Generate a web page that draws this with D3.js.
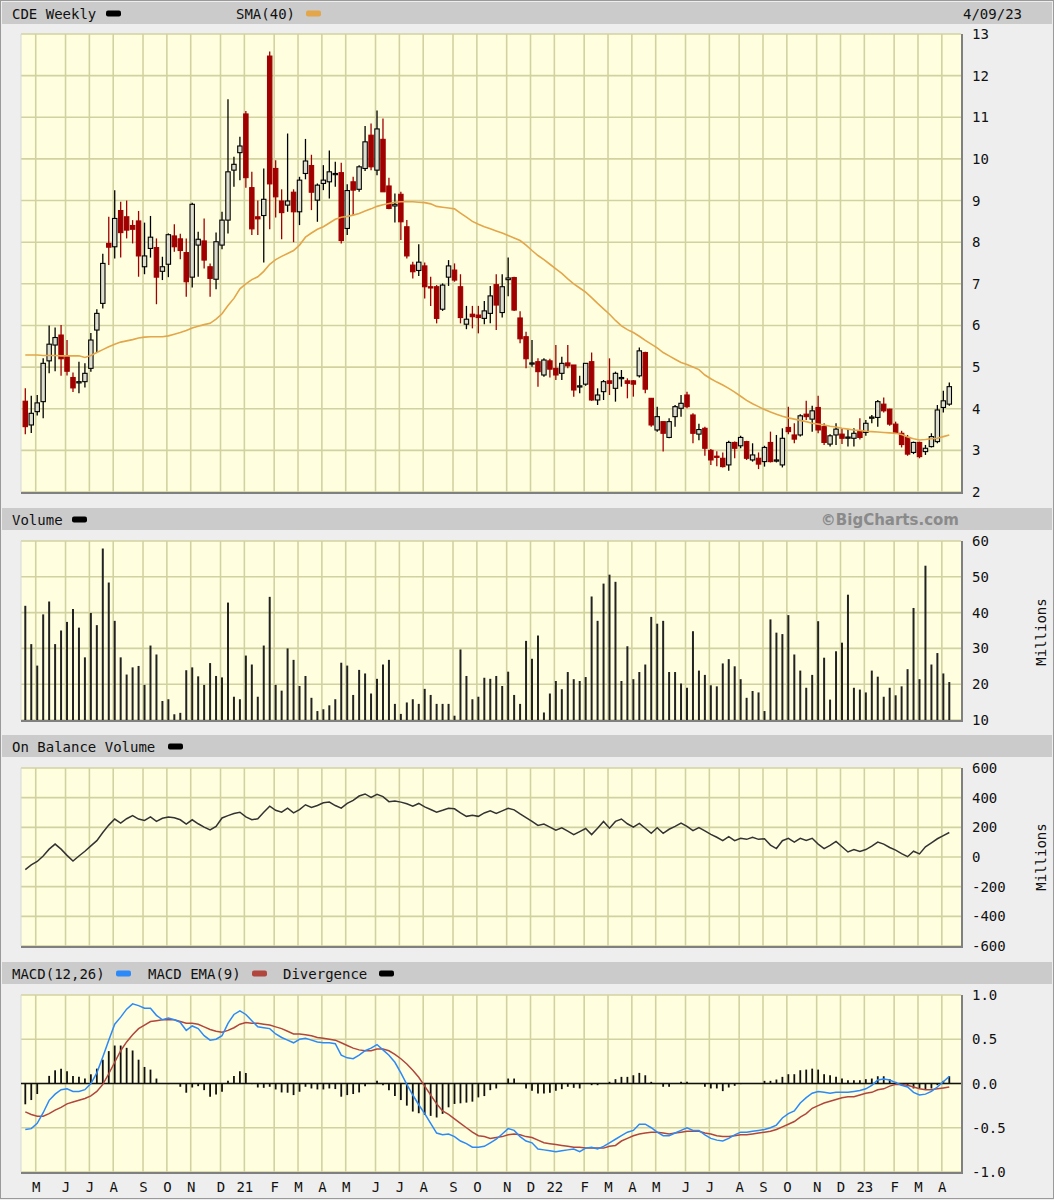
<!DOCTYPE html>
<html>
<head>
<meta charset="utf-8">
<script src="https://cdn.jsdelivr.net/npm/d3@7"></script>
<style>
body { margin: 0; background: #eeeeee; }
svg { display: block; font-family: "DejaVu Sans Mono", monospace; }
</style>
</head>
<body>
<svg id="chart" width="1054" height="1200"></svg>
<script>
// weekly bars, dated on Sundays
const firstWeek = "2020-04-19";
const monthTicks = ["M","J","J","A","S","O","N","D","21","F","M","A","M","J","J","A","S","O","N","D","22","F","M","A","M","J","J","A","S","O","N","D","23","F","M","A"];

const open = [4.18,3.61,3.93,4.17,5.15,5.53,5.77,5.25,4.75,4.62, 4.65,4.97,5.89,6.53,7.97,7.89,8.76,8.61,8.4,8.51, 7.41,7.85,7.87,7.3,7.47,8.15,8.08,7.75,7.16,7.93, 8.03,7.41,7.11,7.93,8.53,9.73,10.15,11.08,9.31,8.61, 8.64,12.47,9.77,8.99,8.89,9.2,8.73,9.65,9.84,9.01, 9.41,9.45,9.63,9.67,8.33,9.45,9.27,9.77,10.57,9.73, 10.47,9.35,8.87,9.15,8.37,7.45,7.32,7.43,6.93,6.93, 6.39,7.16,7.33,6.93,6.03,6.27,6.25,6.17,6.29,6.98, 6.31,7.1,7.15,6.18,5.73,5.08,5.13,4.81,5.15,4.97, 4.85,5.1,5.05,4.53,4.59,5.13,4.21,4.41,4.67,4.49, 4.73,4.67,4.67,4.79,5.35,4.25,3.49,3.69,3.31,3.81, 4.01,4.33,3.85,3.39,3.53,3.0,2.86,2.81,2.65,3.19, 3.11,3.21,2.77,2.81,2.73,3.19,2.75,2.65,3.55,3.37, 3.37,3.87,3.75,4.03,3.57,3.15,3.37,3.39,3.31,3.29, 3.45,3.43,3.78,3.79,4.11,3.99,3.63,3.41,3.31,2.95, 3.19,2.97,3.09,3.21,4.03,4.11];
const high = [4.49,4.31,4.33,5.21,6.0,5.95,6.01,5.65,4.87,5.13, 5.09,5.82,6.39,7.72,8.61,9.25,8.97,9.0,8.53,8.75, 8.47,8.63,8.09,7.65,8.21,8.43,8.2,8.09,8.95,8.25, 8.57,7.49,8.23,8.73,11.43,10.05,10.53,11.15,9.69,9.0, 9.77,12.58,9.97,9.27,10.61,9.27,9.57,10.48,10.1,9.41, 9.85,10.2,9.93,9.91,9.39,9.57,9.85,10.79,10.85,11.16, 10.97,9.55,9.17,9.21,8.53,7.53,7.95,7.51,7.17,6.97, 7.01,7.57,7.49,7.23,6.47,6.47,6.47,6.59,6.95,7.23, 7.23,7.63,7.17,6.34,5.85,5.65,5.21,5.21,5.2,5.53, 5.25,5.53,5.05,4.79,5.1,5.35,4.49,4.69,5.21,4.89, 4.93,4.73,4.69,5.47,5.37,4.25,4.05,3.69,3.77,4.09, 4.33,4.41,3.89,3.64,3.57,3.03,2.98,2.95,3.23,3.21, 3.35,3.23,3.17,2.95,3.11,3.45,3.37,3.53,4.05,3.65, 3.87,4.19,4.07,4.31,3.65,3.39,3.65,3.53,3.51,3.53, 3.77,3.73,3.85,4.21,4.27,4.0,3.69,3.47,3.37,3.21, 3.21,3.13,3.41,4.09,4.43,4.63];
const low = [3.39,3.42,3.84,3.77,4.85,4.9,4.79,4.8,4.4,4.37, 4.51,4.89,5.35,6.41,7.45,7.61,7.63,8.09,7.97,7.17, 7.23,7.63,6.51,7.09,7.16,7.77,7.59,6.69,6.91,7.17, 7.37,6.69,6.87,7.83,8.21,9.33,9.49,9.31,8.17,8.17, 7.51,8.31,8.59,8.07,8.73,8.0,8.41,9.51,8.77,8.49, 9.25,9.05,9.33,7.97,8.17,8.65,9.21,9.71,9.73,9.61, 9.21,8.79,8.47,8.05,7.61,7.13,7.19,6.65,6.47,6.05, 6.35,6.95,7.05,6.05,5.91,5.93,5.81,6.03,6.05,5.89, 6.19,6.7,6.35,5.57,4.97,5.01,4.53,4.77,4.75,4.69, 4.69,4.97,4.29,4.37,4.55,4.19,4.09,4.21,4.33,4.17, 4.53,4.25,4.29,4.75,4.37,3.57,3.45,2.97,3.29,3.57, 3.81,4.01,3.17,3.24,2.87,2.65,2.62,2.59,2.51,2.81, 3.05,2.77,2.73,2.55,2.61,2.71,2.71,2.59,3.39,3.17, 3.33,3.73,3.45,3.41,3.13,3.09,3.13,3.15,3.09,3.09, 3.26,3.35,3.65,3.57,3.91,3.59,3.39,3.07,2.87,2.91, 2.81,2.89,3.07,3.17,3.91,4.07];
const close = [3.57,3.89,4.14,5.09,5.55,5.71,5.2,4.9,4.5,4.65, 4.85,5.65,6.29,7.49,7.88,8.57,8.23,8.29,8.31,7.67, 7.67,8.12,7.16,7.41,8.18,7.89,7.8,7.05,8.91,8.07, 7.57,7.13,8.01,8.53,9.69,9.87,10.31,9.55,8.32,8.56, 9.03,9.40,9.09,8.71,8.99,8.73,9.49,9.95,9.2,9.37, 9.49,9.69,9.65,8.04,9.24,9.25,9.81,10.41,9.81,10.72, 9.21,8.81,8.91,8.49,7.67,7.29,7.52,6.93,6.9,6.17, 6.97,7.43,7.09,6.19,6.15,6.21,6.19,6.35,6.71,6.49, 6.93,7.14,6.37,5.68,5.2,5.1,4.89,5.17,4.95,4.81, 5.09,5.03,4.45,4.55,5.09,4.21,4.33,4.65,4.61,4.85, 4.75,4.61,4.59,5.39,4.47,3.61,3.81,3.41,3.69,4.05, 4.13,4.05,3.41,3.5,3.05,2.77,2.85,2.61,3.19,3.05, 3.31,2.81,2.89,2.67,3.07,2.73,2.77,3.29,3.45,3.27, 3.83,3.81,3.95,3.49,3.19,3.35,3.51,3.29,3.32,3.41, 3.31,3.65,3.8,4.17,3.95,3.63,3.41,3.14,2.91,3.19, 2.85,3.05,3.33,3.97,4.19,4.53];
const sma40 = [5.29,5.29,5.29,5.28,5.28,5.28,5.27,5.27,5.27,5.27, 5.23,5.28,5.35,5.42,5.49,5.55,5.6,5.63,5.66,5.7, 5.72,5.73,5.73,5.73,5.75,5.79,5.83,5.88,5.94,5.98, 6.02,6.05,6.15,6.28,6.48,6.65,6.88,7.0,7.1,7.17, 7.3,7.47,7.58,7.66,7.73,7.8,7.93,8.12,8.22,8.31, 8.37,8.46,8.55,8.6,8.62,8.65,8.69,8.75,8.8,8.86, 8.9,8.93,8.96,8.97,8.97,8.97,8.96,8.95,8.92,8.86, 8.84,8.82,8.8,8.7,8.6,8.5,8.43,8.37,8.32,8.27, 8.22,8.16,8.1,8.04,7.93,7.8,7.68,7.58,7.47,7.36, 7.25,7.12,7.0,6.9,6.8,6.67,6.53,6.4,6.27,6.12, 5.99,5.9,5.83,5.74,5.64,5.55,5.46,5.35,5.27,5.19, 5.11,5.06,5.0,4.94,4.81,4.72,4.64,4.57,4.49,4.4, 4.3,4.2,4.12,4.05,3.98,3.92,3.87,3.82,3.78,3.75, 3.72,3.69,3.65,3.63,3.61,3.58,3.56,3.53,3.51,3.49, 3.48,3.46,3.45,3.44,3.43,3.42,3.41,3.38,3.32,3.28, 3.25,3.26,3.28,3.29,3.33,3.37];
// millions of shares
const volume = [41.9,31.2,25.2,39.5,43.1,31.2,35,37.4,41,35.8, 27.5,39.9,36.5,57.9,48.4,37.7,27.5,22.7,24.7,25.1, 19.8,30.8,28.3,15.3,15.8,11.6,12.0,23.9,24.7,22.2, 19.8,25.9,22.3,21.9,42.8,16.5,15.8,28.0,25.5,16.5, 30.8,44.4,19.8,18.2,30,26.8,19.5,22.3,16.2,12.5, 13.0,14.1,15.8,26,25.2,17,24,23,17.4,21.5, 25.5,26.8,14.5,11.7,14.9,15.8,14.5,18.7,17,14.5, 14.5,14.5,11.2,29.7,22.3,15.8,16.5,21.8,21.5,22.3, 19.5,23.5,17,14.5,32.1,27.1,33.6,12.1,17.4,20.9, 18.6,23.4,21.4,20.9,22,44.5,37.7,48.1,50.6,48.6, 20.9,30.6,21.4,23.4,25.5,38.8,36.9,37.7,23.4,23.4, 20.2,19,34.8,23.8,22.6,19.7,19.4,25.8,27,25, 21.4,16.2,18.1,17.7,12.5,38.1,34.4,34,39.3,28.3, 23.8,19,22.6,37.6,27.4,15.7,29.2,31.6,45,19, 18.5,17.7,23.8,22.1,16.5,19,16.9,19.4,24.2,41.3, 21.4,53.1,25.5,28.7,23,20.6];
const obv = [-85,-53,-30,7,53,87,53,11,-27,7, 39,75,110,165,215,256,229,258,279,256, 247,270,240,261,270,265,251,222,251,224, 201,183,206,263,279,293,302,270,251,258, 302,343,315,302,329,297,320,352,334,347, 366,370,347,329,361,382,411,425,402,423, 407,373,377,370,359,343,361,338,320,302, 315,329,325,297,274,281,274,297,311,293, 311,329,318,290,265,240,213,222,201,181, 197,174,151,171,192,151,194,240,194,240, 256,224,201,226,194,160,197,160,187,206, 229,206,178,199,176,153,133,110,137,110, 126,119,133,119,123,80,57,110,126,101, 126,112,126,87,57,78,105,69,34,50, 37,50,73,101,87,64,46,23,2,39, 21,69,96,123,144,165];
const macd = [-0.52,-0.51,-0.45,-0.33,-0.19,-0.12,-0.07,-0.06,-0.09,-0.09, -0.07,0.0,0.12,0.30,0.49,0.67,0.75,0.84,0.90,0.88, 0.85,0.85,0.77,0.72,0.74,0.72,0.69,0.60,0.65,0.62, 0.54,0.49,0.50,0.54,0.68,0.78,0.82,0.78,0.71,0.64, 0.63,0.62,0.56,0.52,0.49,0.46,0.50,0.51,0.49,0.47, 0.46,0.46,0.45,0.32,0.29,0.28,0.32,0.37,0.40,0.44, 0.38,0.32,0.24,0.12,-0.01,-0.13,-0.24,-0.34,-0.45,-0.56, -0.58,-0.57,-0.60,-0.65,-0.68,-0.72,-0.72,-0.71,-0.67,-0.63, -0.57,-0.51,-0.53,-0.60,-0.65,-0.67,-0.74,-0.75,-0.76,-0.77, -0.76,-0.75,-0.74,-0.77,-0.73,-0.72,-0.74,-0.71,-0.67,-0.63, -0.59,-0.55,-0.53,-0.46,-0.46,-0.50,-0.55,-0.59,-0.59,-0.56, -0.53,-0.50,-0.53,-0.53,-0.58,-0.62,-0.64,-0.65,-0.62,-0.58, -0.55,-0.55,-0.54,-0.53,-0.52,-0.50,-0.47,-0.39,-0.34,-0.31, -0.22,-0.16,-0.11,-0.09,-0.10,-0.11,-0.10,-0.10,-0.10,-0.09, -0.08,-0.06,-0.02,0.04,0.05,0.04,0.01,-0.02,-0.04,-0.10, -0.13,-0.12,-0.09,-0.04,0.02,0.08];
const macdEma = [-0.32,-0.35,-0.37,-0.37,-0.34,-0.30,-0.27,-0.23,-0.21,-0.19, -0.17,-0.14,-0.09,-0.01,0.11,0.24,0.37,0.47,0.55,0.62, 0.66,0.70,0.71,0.72,0.72,0.72,0.70,0.68,0.68,0.67, 0.64,0.61,0.59,0.58,0.60,0.63,0.67,0.69,0.68,0.68, 0.67,0.66,0.64,0.62,0.59,0.56,0.56,0.55,0.54,0.52, 0.51,0.50,0.49,0.46,0.43,0.40,0.38,0.37,0.37,0.39, 0.39,0.37,0.33,0.28,0.22,0.15,0.07,-0.03,-0.13,-0.23, -0.31,-0.35,-0.40,-0.45,-0.50,-0.55,-0.59,-0.60,-0.62,-0.61, -0.60,-0.58,-0.57,-0.58,-0.60,-0.61,-0.64,-0.67,-0.68,-0.69, -0.70,-0.71,-0.72,-0.72,-0.73,-0.73,-0.73,-0.73,-0.71,-0.70, -0.65,-0.62,-0.59,-0.57,-0.56,-0.55,-0.55,-0.56,-0.57,-0.56, -0.55,-0.54,-0.54,-0.54,-0.56,-0.57,-0.59,-0.60,-0.60,-0.59, -0.58,-0.58,-0.57,-0.56,-0.55,-0.54,-0.52,-0.49,-0.46,-0.43, -0.38,-0.34,-0.28,-0.25,-0.22,-0.20,-0.18,-0.16,-0.15,-0.15, -0.13,-0.11,-0.10,-0.07,-0.06,-0.03,-0.01,-0.01,-0.02,-0.04, -0.06,-0.07,-0.07,-0.06,-0.05,-0.04];
const divergence = [-0.235,-0.187,-0.119,0.005,0.086,0.149,0.168,0.138,0.086,0.075, 0.056,0.104,0.168,0.269,0.366,0.429,0.429,0.403,0.373,0.269, 0.187,0.157,0.056,0.0,-0.007,0.0,-0.037,-0.104,-0.045,-0.03, -0.075,-0.149,-0.123,-0.093,0.03,0.086,0.138,0.119,-0.007,-0.045, -0.049,-0.037,-0.067,-0.101,-0.104,-0.131,-0.093,-0.037,-0.056,-0.067, -0.067,-0.056,-0.063,-0.149,-0.131,-0.119,-0.101,-0.03,-0.007,0.03, -0.019,-0.075,-0.142,-0.187,-0.25,-0.317,-0.336,-0.354,-0.366,-0.384, -0.343,-0.269,-0.231,-0.224,-0.216,-0.205,-0.157,-0.142,-0.075,-0.056, 0.0,0.056,0.056,0.0,-0.056,-0.082,-0.112,-0.112,-0.105,-0.082, -0.064,-0.037,-0.049,-0.056,0.0,-0.019,-0.019,0.0,0.019,0.049, 0.075,0.075,0.093,0.12,0.093,0.019,0.0,-0.037,-0.037,-0.007, 0.019,0.019,-0.007,-0.007,-0.037,-0.056,-0.056,-0.086,-0.045,-0.026, -0.007,0.0,0.0,0.0,0.03,0.03,0.045,0.075,0.105,0.105, 0.15,0.157,0.168,0.157,0.105,0.093,0.075,0.056,0.037,0.037, 0.037,0.049,0.056,0.082,0.082,0.049,0.019,-0.019,-0.03,-0.056, -0.056,-0.064,-0.056,-0.019,0.03,0.082];

const priceTicks = [2,3,4,5,6,7,8,9,10,11,12,13];
const volTicks = [10,20,30,40,50,60];
const obvTicks = [-600,-400,-200,0,200,400,600];
const macdTicks = [-1,-0.5,0,0.5,1];

const n = close.length;
const start = d3.timeParse("%Y-%m-%d")(firstWeek);
const dates = d3.range(n).map(i => d3.timeDay.offset(start, 7 * i));
const monthIdx = d3.range(1, n).filter(i => dates[i].getMonth() !== dates[i - 1].getMonth());

const svg = d3.select("#chart");
const left = 21, right = 961;
const x = d3.scaleLinear().domain([0, n - 1]).range([25.3, 949.3]);

const gridColor = "#d2d2a0";
const bandColor = "#cbcbcb";

svg.append("rect").attr("x", 0.5).attr("y", 0.5).attr("width", 1053).attr("height", 1198)
  .attr("fill", "#eeeeee").attr("stroke", "#9a9a9a");

function header(y, items, rightText) {
  svg.append("rect").attr("x", 2).attr("y", y).attr("width", 1050).attr("height", 22).attr("fill", bandColor);
  items.forEach(d => {
    svg.append("text").attr("x", d.x).attr("y", y + 11.5).attr("dominant-baseline", "central")
      .attr("font-size", "14px").attr("fill", "#111").text(d.label);
    svg.append("rect").attr("x", d.sx).attr("y", y + 8.5).attr("width", 15).attr("height", 6)
      .attr("rx", 2).attr("fill", d.color);
  });
}

function panel(y, top, bottom, ticks, fmt) {
  svg.append("rect").attr("x", left).attr("y", top).attr("width", right - left).attr("height", bottom - top)
    .attr("fill", "#ffffe0");
  const g = svg.append("g");
  g.selectAll("line.h").data(ticks).enter().append("line")
    .attr("x1", left).attr("x2", right)
    .attr("y1", d => y(d)).attr("y2", d => y(d))
    .attr("stroke", gridColor).attr("stroke-width", 1.6);
  g.selectAll("line.v").data(monthIdx).enter().append("line")
    .attr("x1", d => x(d) - 1.5).attr("x2", d => x(d) - 1.5)
    .attr("y1", top).attr("y2", bottom)
    .attr("stroke", gridColor).attr("stroke-width", 1.6);
  // frame shading
  svg.append("line").attr("x1", left).attr("x2", left).attr("y1", top).attr("y2", bottom).attr("stroke", "#d8d8d8");
  svg.append("line").attr("x1", left).attr("x2", right + 1).attr("y1", bottom + 1).attr("y2", bottom + 1)
    .attr("stroke", "#808080").attr("stroke-width", 2);
  svg.append("line").attr("x1", right + 1).attr("x2", right + 1).attr("y1", top).attr("y2", bottom + 2)
    .attr("stroke", "#808080").attr("stroke-width", 2);
  svg.append("g").selectAll("text").data(ticks).enter().append("text")
    .attr("x", 972).attr("y", d => y(d)).attr("dominant-baseline", "central")
    .attr("font-size", "14px").attr("fill", "#111").text(fmt);
}

function millions(cy) {
  svg.append("text").attr("transform", `translate(1041,${cy}) rotate(-90)`)
    .attr("text-anchor", "middle").attr("dominant-baseline", "central")
    .attr("font-size", "14px").attr("fill", "#111").text("Millions");
}

// ---------- price panel ----------
const yPrice = d3.scaleLinear().domain([2, 13]).range([492, 34]);
header(2, [
  { label: "CDE Weekly", x: 12, sx: 106, color: "#000" },
  { label: "SMA(40)", x: 236, sx: 306, color: "#e3a64a" }
]);
svg.append("text").attr("x", 1022).attr("y", 13.5).attr("text-anchor", "end").attr("dominant-baseline", "central")
  .attr("font-size", "14px").attr("fill", "#111").text("4/09/23");
panel(yPrice, 34, 492, priceTicks, d => d);

const bars = d3.range(n);
const cg = svg.append("g");
cg.selectAll("line.wick").data(bars).enter().append("line")
  .attr("x1", i => x(i)).attr("x2", i => x(i))
  .attr("y1", i => yPrice(high[i])).attr("y2", i => yPrice(low[i]))
  .attr("stroke", i => close[i] < open[i] ? "#a00000" : "#000")
  .attr("stroke-width", 1.3);
cg.selectAll("rect.body").data(bars).enter().append("rect")
  .attr("x", i => x(i) - 2.2)
  .attr("width", 4.4)
  .attr("y", i => yPrice(Math.max(open[i], close[i])))
  .attr("height", i => Math.max(1.2, Math.abs(yPrice(open[i]) - yPrice(close[i]))))
  .attr("fill", i => close[i] < open[i] ? "#a00000" : "#dedecf")
  .attr("stroke", i => close[i] < open[i] ? "#a00000" : "#000")
  .attr("stroke-width", 1.1);

svg.append("path").datum(bars)
  .attr("d", d3.line().x(i => x(i)).y(i => yPrice(sma40[i])))
  .attr("fill", "none").attr("stroke", "#e3a64a").attr("stroke-width", 1.6);

// ---------- volume panel ----------
const yVol = d3.scaleLinear().domain([10, 60]).range([720, 541]);
header(508, [{ label: "Volume", x: 12, sx: 72, color: "#000" }]);
svg.append("text").attr("x", 959).attr("y", 519.5).attr("text-anchor", "end").attr("dominant-baseline", "central")
  .attr("font-family", "DejaVu Sans, sans-serif").attr("font-weight", "bold")
  .attr("font-size", "15px").attr("fill", "#8a8a8a").text("©BigCharts.com");
panel(yVol, 541, 720, volTicks, d => d);
svg.append("g").selectAll("line").data(bars).enter().append("line")
  .attr("x1", i => x(i)).attr("x2", i => x(i))
  .attr("y1", yVol(10)).attr("y2", i => yVol(volume[i]))
  .attr("stroke", "#222").attr("stroke-width", 2);
millions(632);

// ---------- on balance volume ----------
const yObv = d3.scaleLinear().domain([-600, 600]).range([946, 768]);
header(735, [{ label: "On Balance Volume", x: 12, sx: 168, color: "#000" }]);
panel(yObv, 768, 946, obvTicks, d => String(d));
svg.append("path").datum(bars)
  .attr("d", d3.line().x(i => x(i)).y(i => yObv(obv[i])))
  .attr("fill", "none").attr("stroke", "#333").attr("stroke-width", 1.5);
millions(857);

// ---------- MACD ----------
const yMacd = d3.scaleLinear().domain([-1, 1]).range([1172, 995]);
header(962, [
  { label: "MACD(12,26)", x: 12, sx: 116, color: "#2b8af7" },
  { label: "MACD EMA(9)", x: 148, sx: 252, color: "#b0463c" },
  { label: "Divergence", x: 283, sx: 379, color: "#000" }
]);
panel(yMacd, 995, 1172, macdTicks, d => d3.format(".1f")(d).replace("−", "-"));
svg.append("g").selectAll("line").data(bars).enter().append("line")
  .attr("x1", i => x(i)).attr("x2", i => x(i))
  .attr("y1", yMacd(0)).attr("y2", i => yMacd(divergence[i]))
  .attr("stroke", "#111").attr("stroke-width", 1.8);
svg.append("line").attr("x1", left).attr("x2", right).attr("y1", yMacd(0)).attr("y2", yMacd(0))
  .attr("stroke", "#111").attr("stroke-width", 1.6);
svg.append("path").datum(bars)
  .attr("d", d3.line().x(i => x(i)).y(i => yMacd(macdEma[i])))
  .attr("fill", "none").attr("stroke", "#b0463c").attr("stroke-width", 1.5);
svg.append("path").datum(bars)
  .attr("d", d3.line().x(i => x(i)).y(i => yMacd(macd[i])))
  .attr("fill", "none").attr("stroke", "#2b8af7").attr("stroke-width", 1.5);

// month labels
svg.append("g").selectAll("text").data(monthIdx).enter().append("text")
  .attr("x", i => x(i) - 1).attr("y", 1187).attr("text-anchor", "middle").attr("dominant-baseline", "central")
  .attr("font-size", "14px").attr("fill", "#111")
  .text((d, k) => monthTicks[k]);
</script>
</body>
</html>
